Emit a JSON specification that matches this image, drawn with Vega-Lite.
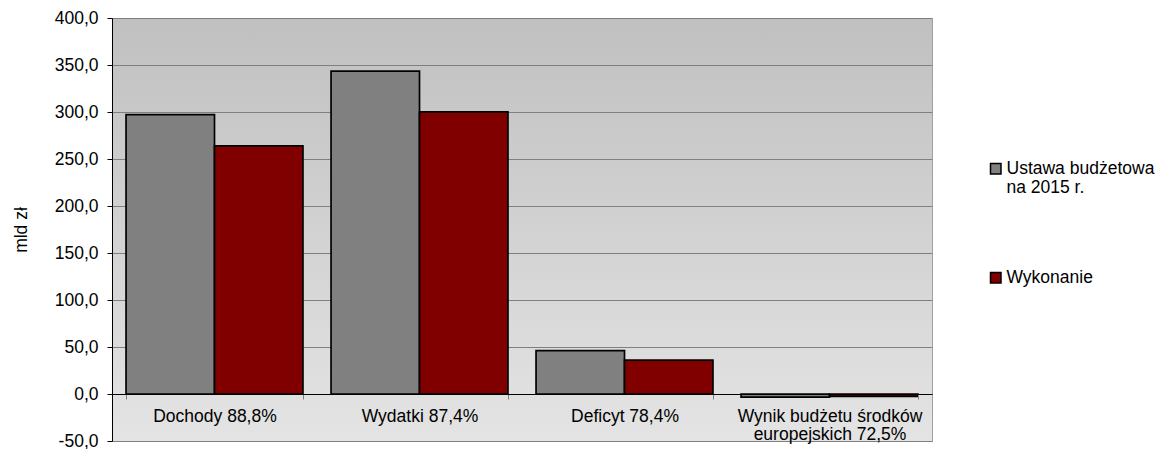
{
  "$schema": "https://vega.github.io/schema/vega-lite/v6.json",
  "width": 820,
  "height": 423,
  "autosize": {"type": "none"},
  "padding": {"left": 112, "top": 18, "right": 230, "bottom": 8},
  "background": "white",
  "config": {
    "font": "Liberation Sans",
    "view": {
      "stroke": "#a0a0a0",
      "strokeWidth": 1,
      "fill": {"gradient": "linear", "x1": 0, "y1": 0, "x2": 0, "y2": 1,
        "stops": [{"offset": 0, "color": "#c0c0c0"}, {"offset": 1, "color": "#e4e4e4"}]}
    }
  },
  "data": {
    "values": [
      {"kategoria": "Dochody 88,8%", "seria": "Ustawa budżetowa na 2015 r.", "wartosc": 297.3},
      {"kategoria": "Dochody 88,8%", "seria": "Wykonanie", "wartosc": 264.0},
      {"kategoria": "Wydatki 87,4%", "seria": "Ustawa budżetowa na 2015 r.", "wartosc": 343.4},
      {"kategoria": "Wydatki 87,4%", "seria": "Wykonanie", "wartosc": 300.2},
      {"kategoria": "Deficyt 78,4%", "seria": "Ustawa budżetowa na 2015 r.", "wartosc": 46.1},
      {"kategoria": "Deficyt 78,4%", "seria": "Wykonanie", "wartosc": 36.1},
      {"kategoria": "Wynik budżetu środków europejskich 72,5%", "seria": "Ustawa budżetowa na 2015 r.", "wartosc": -3.4},
      {"kategoria": "Wynik budżetu środków europejskich 72,5%", "seria": "Wykonanie", "wartosc": -2.5}
    ]
  },
  "mark": {"type": "bar", "stroke": "black", "strokeWidth": 1.7},
  "encoding": {
    "x": {
      "field": "kategoria",
      "type": "nominal",
      "sort": ["Dochody 88,8%", "Wydatki 87,4%", "Deficyt 78,4%", "Wynik budżetu środków europejskich 72,5%"],
      "scale": {"paddingInner": 0.137, "paddingOuter": 0.0685},
      "axis": {
        "title": null,
        "orient": "bottom",
        "offset": -47,
        "zindex": 1,
        "labelAngle": 0,
        "domainColor": "black",
        "domainWidth": 1,
        "tickBand": "extent",
        "tickColor": "#808080",
        "tickSize": 5,
        "labelPadding": 8,
        "labelFontSize": 17.5,
        "labelColor": "black",
        "labelLineHeight": 18,
        "labelLimit": 400,
        "labelOverlap": false,
        "labelExpr": "datum.label == 'Wynik budżetu środków europejskich 72,5%' ? ['Wynik budżetu środków', 'europejskich 72,5%'] : datum.label"
      }
    },
    "xOffset": {
      "field": "seria",
      "type": "nominal",
      "sort": ["Ustawa budżetowa na 2015 r.", "Wykonanie"]
    },
    "y": {
      "field": "wartosc",
      "type": "quantitative",
      "title": "mld zł",
      "scale": {"domain": [-50, 400], "nice": false, "zero": false},
      "axis": {
        "values": [-50, 0, 50, 100, 150, 200, 250, 300, 350, 400],
        "labelExpr": "replace(replace(format(datum.value, '.1f'), '.', ','), '−', '-')",
        "grid": true,
        "gridColor": "#808080",
        "gridWidth": 1,
        "domainColor": "black",
        "domainWidth": 1,
        "tickColor": "black",
        "tickSize": 5,
        "labelPadding": 9,
        "labelFontSize": 17.5,
        "labelColor": "black",
        "titleFontSize": 17.5,
        "titleFontWeight": "normal",
        "titleColor": "black",
        "titlePadding": 24
      }
    },
    "color": {
      "field": "seria",
      "type": "nominal",
      "scale": {"domain": ["Ustawa budżetowa na 2015 r.", "Wykonanie"], "range": ["#808080", "#800000"]},
      "legend": {
        "title": null,
        "orient": "none",
        "legendX": 875,
        "legendY": 142,
        "padding": 0,
        "symbolType": "square",
        "symbolSize": 110,
        "symbolStrokeColor": "black",
        "symbolStrokeWidth": 1.5,
        "labelFontSize": 17.5,
        "labelColor": "black",
        "labelLineHeight": 21,
        "labelOffset": 2,
        "labelLimit": 300,
        "rowPadding": 71,
        "labelExpr": "datum.label == 'Ustawa budżetowa na 2015 r.' ? ['Ustawa budżetowa', 'na 2015 r.'] : datum.label"
      }
    }
  }
}
